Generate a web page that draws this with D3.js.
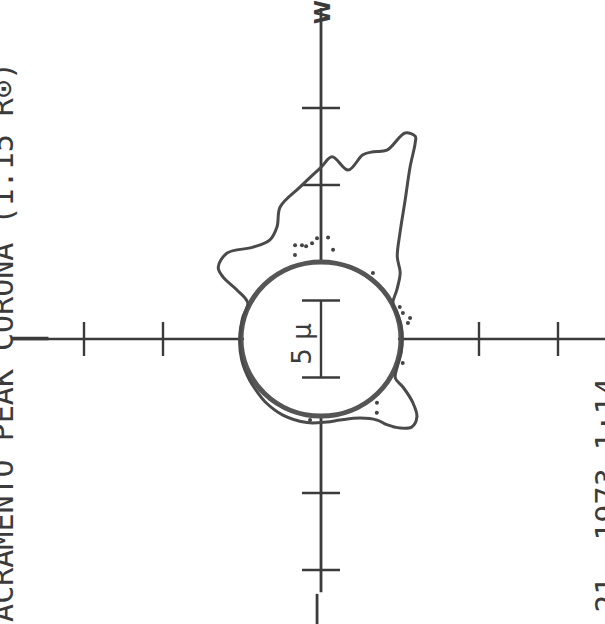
<!DOCTYPE html>
<html>
<head>
<meta charset="utf-8">
<script src="https://cdn.jsdelivr.net/npm/d3@7"></script>
<style>
  html, body { margin: 0; padding: 0; background: #fff; }
  svg { display: block; }
</style>
</head>
<body>
<svg id="chart" width="605" height="624"></svg>
<script>
// Coronal brightness at 1.15 solar radii, plotted radially around the disk.
// Position angle in degrees (counter-clockwise from the right-hand axis),
// radius in disk units (1 = limb circle, one tick = 5 millionths).
const outlineAngle = [0, 10, 20, 27, 33.5, 40.6, 47.9, 54, 59.5, 63.2, 64.9, 65.6, 68.3,
  71.2, 74.8, 77.5, 81.1, 86.6, 90, 97.7, 106.8, 110.9, 116.7, 125.8, 136.8, 144.4,
  147, 149.1, 153.1, 165, 180, 195, 210, 220, 229, 244, 260.8, 274, 283, 295.7, 304,
  306.8, 310.9, 315.2, 320.2, 324.5, 329, 331.6, 340, 350];
const outlineRadius = [1.03, 1.03, 1.02, 1.02, 1.15, 1.32, 1.44, 1.70, 2.10, 2.50, 2.81, 2.89, 2.88,
  2.59, 2.52, 2.45, 2.22, 2.37, 2.23, 1.99, 1.79, 1.56, 1.44, 1.47, 1.63, 1.60,
  1.48, 1.24, 1.04, 1.03, 1.03, 1.04, 1.05, 1.06, 1.08, 1.10, 1.10, 1.08, 1.08, 1.14, 1.27,
  1.39, 1.53, 1.62, 1.58, 1.43, 1.21, 1.07, 1.03, 1.03];

// Isolated single readings
const dotAngle  = [105.1, 101.2, 98.9, 95.2, 92.2, 86.1, 82.5, 106.8, 52.5, 22.6, 18, 13.6, 10.7, 343.3, 310.5, 306.4, 262.5];
const dotRadius = [1.26, 1.24, 1.22, 1.25, 1.31, 1.32, 1.17, 1.14, 1.08, 1.08, 1.09, 1.16, 1.12, 1.08, 1.09, 1.19, 1.06];

const axisTicks = [-3, -2, 2, 3];
const scaleBarMicro = 5;        // length of the scale bar, millionths
const microPerUnit = 5;         // millionths per disk unit
const title = "SACRAMENTO PEAK CORONA (1.15 R\u2299)";
const dateLabel = "AUG. 21, 1973  1:14";
const westLabel = "W";

const svg = d3.select("#chart");
const ink = "#3b3b3b";

const x = d3.scaleLinear().domain([-4, 4]).range([321 - 4 * 79, 321 + 4 * 79]);
const y = d3.scaleLinear().domain([-4, 4]).range([339 + 4 * 77, 339 - 4 * 77]);

const toXY = (a, r) => {
  const t = a * Math.PI / 180;
  return [x(r * Math.cos(t)), y(r * Math.sin(t))];
};

// Axes
const axes = svg.append("g").attr("stroke", ink).attr("fill", "none").attr("stroke-linecap", "butt");
axes.append("line").attr("x1", x(-3.91)).attr("x2", x(3.6)).attr("y1", y(0)).attr("y2", y(0)).attr("stroke-width", 2.6);
axes.append("line").attr("x1", x(-3.91)).attr("x2", x(-3.45)).attr("y1", y(0) - 0.5).attr("y2", y(0) - 0.5).attr("stroke-width", 3.6);
axes.append("line").attr("x1", x(0)).attr("x2", x(0)).attr("y1", y(4.3)).attr("y2", y(-3.29)).attr("stroke-width", 2.8);
axes.append("line").attr("x1", x(-0.05)).attr("x2", x(-0.05)).attr("y1", y(-3.31)).attr("y2", y(-3.75)).attr("stroke-width", 2.8);

axes.selectAll(".tx").data(axisTicks).join("line")
  .attr("x1", d => x(d)).attr("x2", d => x(d))
  .attr("y1", y(0) - 17).attr("y2", y(0) + 17).attr("stroke-width", 2.4);
axes.selectAll(".ty").data(axisTicks).join("line")
  .attr("y1", d => y(d)).attr("y2", d => y(d))
  .attr("x1", x(0) - 19).attr("x2", x(0) + 19).attr("stroke-width", 2.4);

// White disk behind the limb circle
svg.append("ellipse")
  .attr("cx", x(0)).attr("cy", y(0))
  .attr("rx", x(1) - x(0) - 2).attr("ry", y(0) - y(1) - 2)
  .attr("fill", "#fff");

// Scale bar
const half = scaleBarMicro / microPerUnit / 2;
const bar = svg.append("g").attr("stroke", ink).attr("stroke-width", 2.4);
bar.append("line").attr("x1", x(0)).attr("x2", x(0)).attr("y1", y(half)).attr("y2", y(-half));
[half, -half].forEach(v => bar.append("line").attr("x1", x(0) - 19).attr("x2", x(0) + 19).attr("y1", y(v)).attr("y2", y(v)));

svg.append("text")
  .attr("transform", `translate(${x(0) - 10},${y(0) + 5}) rotate(-90)`)
  .attr("text-anchor", "middle")
  .attr("font-family", "DejaVu Sans")
  .attr("font-size", 26)
  .attr("fill", ink)
  .text(scaleBarMicro + " \u03bc");

// Limb circle
svg.append("ellipse")
  .attr("cx", x(0)).attr("cy", y(0))
  .attr("rx", x(1) - x(0) + 1).attr("ry", y(0) - y(1))
  .attr("fill", "none").attr("stroke", "#555").attr("stroke-width", 5);

// Brightness contour
const pts = outlineAngle.map((a, i) => toXY(a, outlineRadius[i]));
svg.append("path")
  .attr("d", d3.line().curve(d3.curveCatmullRomClosed.alpha(0.5))(pts))
  .attr("fill", "none").attr("stroke", "#4a4a4a").attr("stroke-width", 3).attr("stroke-linejoin", "round");

svg.selectAll(".dot").data(dotAngle).join("circle")
  .attr("cx", (a, i) => toXY(a, dotRadius[i])[0])
  .attr("cy", (a, i) => toXY(a, dotRadius[i])[1])
  .attr("r", 2).attr("fill", "#444");

// Labels
svg.append("text")
  .attr("transform", `translate(${x(0) + 9},12) rotate(-90)`)
  .attr("text-anchor", "middle")
  .attr("font-family", "DejaVu Sans").attr("font-size", 22).attr("font-weight", "bold").attr("fill", ink)
  .text(westLabel);

svg.append("text")
  .attr("transform", `translate(13,62) rotate(-90)`)
  .attr("text-anchor", "end")
  .attr("font-family", "DejaVu Sans Mono").attr("font-size", 30).attr("fill", ink)
  .text(title);

svg.append("text")
  .attr("transform", `translate(617,378) rotate(-90)`)
  .attr("text-anchor", "end")
  .attr("font-family", "DejaVu Sans Mono").attr("font-size", 30).attr("fill", ink)
  .text(dateLabel);
</script>
</body>
</html>
